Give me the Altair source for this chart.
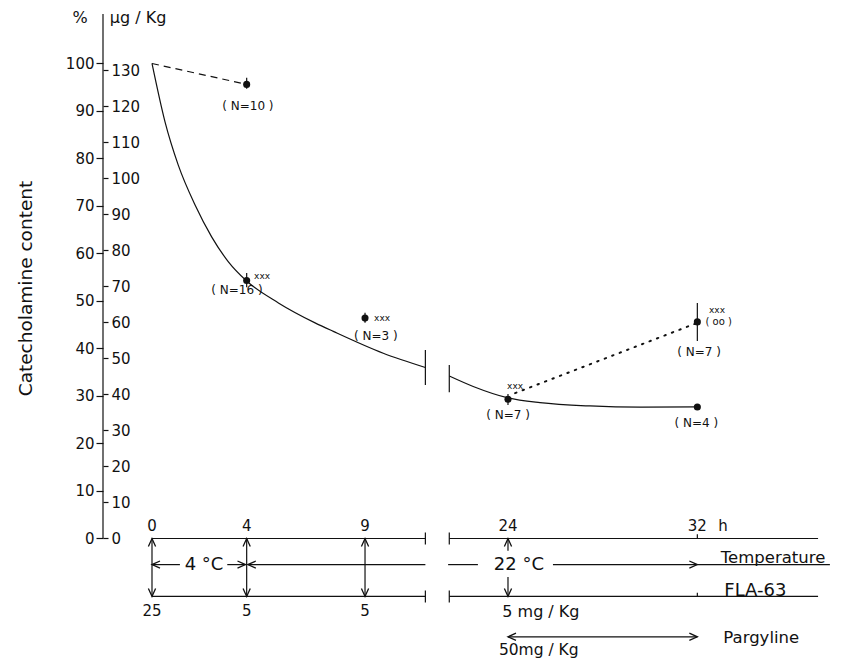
import altair as alt
import pandas as pd

FONT = "DejaVu Sans"
INK = "#111111"

# ---------------- data (time in hours, content in % of control) ----------------
BREAK_SHIFT = 8.96          # hours removed between the two parts of the broken time axis
PCT_PER_UG = 0.7579         # 100 % == ~132 ug/Kg

pct_ticks = [0, 10, 20, 30, 40, 50, 60, 70, 80, 90, 100]
ug_ticks = [0, 10, 20, 30, 40, 50, 60, 70, 80, 90, 100, 110, 120, 130]

# solid curve (4 degC + FLA-63), drawn in two pieces around the axis break
curve_left_t = [0, 0.55, 1.11, 1.82, 2.52, 3.22, 4.0, 5.34, 6.89, 7.66, 9.77, 11.55]
curve_left_v = [100, 87.7, 78.6, 70.2, 63.5, 58.3, 54.2, 49.6, 45.4, 43.6, 39.0, 36.0]
curve_right_t = [21.52, 22.53, 24.0, 25.35, 27.46, 29.58, 32.05]
curve_right_v = [34.2, 32.0, 29.6, 28.6, 27.9, 27.65, 27.7]

# measured means with error bars
point_t = [4, 4, 9, 24, 32, 32]
point_v = [95.6, 54.3, 46.4, 29.3, 45.6, 27.7]
err_lo = [94.7, 52.9, 45.4, 28.1, 41.6, 27.7]
err_hi = [97.0, 55.9, 47.5, 30.4, 49.6, 27.7]

# control (dashed) and pargyline (dotted) lines
dash_t = [0, 4]
dash_v = [100, 95.6]
dot_t = [24.3, 31.95]
dot_v = [30.6, 45.3]

# annotation labels next to the points
note_text = ["( N=10 )", "( N=16 )", "xxx", "( N=3 )", "xxx", "xxx", "( N=7 )",
             "xxx", "( oo )", "( N=7 )", "( N=4 )"]
note_t = [4.05, 3.59, 4.65, 9.46, 9.72, 24.3, 24.0, 32.83, 32.9, 32.07, 31.96]
note_v = [91.05, 52.3, 55.3, 42.6, 46.5, 32.0, 25.9, 48.0, 45.6, 39.3, 24.3]
note_fs = [12, 12, 9, 12, 9, 9, 12, 9, 10, 12, 12]

# treatment schedule below the plot (rows in the same y units)
ROW_TIME, ROW_TEMP, ROW_FLA, ROW_PARG = 0.0, -5.5, -12.2, -20.7
time_labels = ["0", "4", "9", "24", "32", "h"]
time_label_t = [0, 4, 9, 24, 32, 33.08]
dose_labels = ["25", "5", "5"]
dose_label_t = [0, 4, 9]
sched_text = ["4 °C", "22 °C", "Temperature", "FLA-63", "5 mg / Kg", "Pargyline", "50mg / Kg"]
sched_t = [2.2, 24.46, 35.2, 34.45, 25.39, 34.7, 25.3]
sched_v = [ROW_TEMP, ROW_TEMP, -4.1, -11.0, -15.5, -20.9, -23.5]
sched_fs = [18, 18, 16.5, 18, 16, 16.5, 15.5]

# ---------------- helpers ----------------
def pos(t):
    return t if t <= 12 else t - BREAK_SHIFT

X_MIN = -2.070
X_MAX = 28.729
Y_MIN = -25.37
Y_MAX = 110.84
W, H = 729, 647

xs = alt.Scale(domain=[X_MIN, X_MAX], nice=False, zero=False)
ys = alt.Scale(domain=[Y_MIN, Y_MAX], nice=False, zero=False)

def X(f):
    return alt.X(f, type="quantitative", scale=xs, axis=None)

def Y(f, axis=None):
    return alt.Y(f, type="quantitative", scale=ys, axis=axis)

# ---------------- tables ----------------
curve_df = pd.DataFrame({
    "seg": ["L"] * len(curve_left_t) + ["R"] * len(curve_right_t),
    "x": [pos(t) for t in curve_left_t + curve_right_t],
    "v": curve_left_v + curve_right_v,
})
curve_df["o"] = range(len(curve_df))

pts_df = pd.DataFrame({"x": [pos(t) for t in point_t], "v": point_v,
                       "lo": err_lo, "hi": err_hi})
dash_df = pd.DataFrame({"x": [pos(t) for t in dash_t], "v": dash_v})
dot_df = pd.DataFrame({"x": [pos(t) for t in dot_t], "v": dot_v})

# rule segments: (t1, t2, v1, v2)
segs = [
    # y axis line
    (X_MIN, X_MIN, 0, 110.4),
    # axis break bars on the curve
    (11.55, 11.55, 32.3, 39.7), (21.52, 21.52, 30.8, 36.5),
    # time row
    (0, 11.55, ROW_TIME, ROW_TIME), (21.52, 37.1, ROW_TIME, ROW_TIME),
    (11.55, 11.55, ROW_TIME - 1.26, ROW_TIME + 1.26), (21.52, 21.52, ROW_TIME - 1.26, ROW_TIME + 1.26),
    (32, 32, ROW_TIME, ROW_TIME + 0.9),
    # temperature row
    (0, 1.18, ROW_TEMP, ROW_TEMP), (3.18, 3.95, ROW_TEMP, ROW_TEMP), (4.05, 11.55, ROW_TEMP, ROW_TEMP),
    (21.47, 22.73, ROW_TEMP, ROW_TEMP), (25.9, 37.6, ROW_TEMP, ROW_TEMP),
    # FLA-63 row
    (0, 11.55, ROW_FLA, ROW_FLA), (21.52, 37.1, ROW_FLA, ROW_FLA),
    (11.55, 11.55, ROW_FLA - 1.26, ROW_FLA + 1.26), (21.52, 21.52, ROW_FLA - 1.26, ROW_FLA + 1.26),
    (32, 32, ROW_FLA, ROW_FLA + 0.8),
    # injection arrows
    (0, 0, ROW_FLA, ROW_TIME), (4, 4, ROW_FLA, ROW_TIME), (9, 9, ROW_FLA, ROW_TIME),
    (24, 24, -2.6, ROW_TIME), (24, 24, ROW_FLA, -8.1),
    # pargyline
    (24, 32, ROW_PARG, ROW_PARG),
]
for tt, lo, hi in zip(point_t, err_lo, err_hi):
    if hi > lo:
        segs.append((tt, tt, lo, hi))
seg_df = pd.DataFrame({
    "x1": [pos(s[0]) if s[0] != X_MIN else X_MIN for s in segs],
    "x2": [pos(s[1]) if s[1] != X_MIN else X_MIN for s in segs],
    "v1": [s[2] for s in segs],
    "v2": [s[3] for s in segs],
})

arrow_rows = [
    (0, ROW_TEMP, "left"), (3.95, ROW_TEMP, "right"), (4.05, ROW_TEMP, "left"), (32, ROW_TEMP, "right"),
    (0, ROW_TIME, "up"), (0, ROW_FLA, "down"), (4, ROW_TIME, "up"), (4, ROW_FLA, "down"),
    (9, ROW_TIME, "up"), (9, ROW_FLA, "down"), (24, ROW_TIME, "up"), (24, ROW_FLA, "down"),
    (24, ROW_PARG, "left"), (32, ROW_PARG, "right"),
]
arrow_df = pd.DataFrame({"x": [pos(a[0]) for a in arrow_rows],
                         "v": [a[1] for a in arrow_rows],
                         "dir": [a[2] for a in arrow_rows]})
arrow_dirs = ["right", "left", "up", "down"]
arrow_paths = ["M-1,-0.45L0,0L-1,0.45", "M1,-0.45L0,0L1,0.45",
               "M-0.45,1L0,0L0.45,1", "M-0.45,-1L0,0L0.45,-1"]

txt_label = (note_text + time_labels + dose_labels + sched_text + ["%", "µg / Kg"])
txt_t = (note_t + time_label_t + dose_label_t + sched_t + [-3.04, -0.59])
txt_v = (note_v + [2.7] * len(time_labels) + [-15.3] * len(dose_labels) + sched_v + [109.6, 109.6])
txt_fs = (note_fs + [15] * len(time_labels) + [15] * len(dose_labels) + sched_fs + [16, 16])
text_df = pd.DataFrame({"x": [pos(t) for t in txt_t], "v": txt_v,
                        "label": txt_label, "fs": txt_fs})

# ---------------- layers ----------------
pct_axis = alt.Axis(values=pct_ticks, orient="left", domain=False, grid=False,
                    tickSize=7, tickWidth=1.2, labelPadding=2, labelFontSize=15,
                    title="Catecholamine content", titleFontSize=18.5, titleFontWeight="normal",
                    titleAngle=270, titleAlign="center", titleBaseline="middle",
                    titleX=-78, titleY=276)
ug_axis = alt.Axis(values=[u * PCT_PER_UG for u in ug_ticks], orient="right", offset=-W,
                   domain=False, grid=False, tickSize=5, tickWidth=1.2, labelPadding=3,
                   labelFontSize=15, title=None,
                   labelExpr="round(datum.value / %s)" % PCT_PER_UG)

curve = alt.Chart(curve_df).mark_line(color=INK, strokeWidth=1.2, interpolate="monotone").encode(
    x=X("x"), y=Y("v", pct_axis), detail="seg:N", order="o:Q")

rules = alt.Chart(seg_df).mark_rule(color=INK, strokeWidth=1.2).encode(
    x=X("x1"), x2="x2", y=Y("v1", ug_axis), y2="v2")

dashed = alt.Chart(dash_df).mark_line(color=INK, strokeWidth=1.2, strokeDash=[7, 5]).encode(
    x=X("x"), y=Y("v"))

dotted = alt.Chart(dot_df).mark_line(color=INK, strokeWidth=2, strokeDash=[1.5, 6.5],
                                     strokeCap="round").encode(x=X("x"), y=Y("v"))

points = alt.Chart(pts_df).mark_circle(size=50, color=INK, opacity=1).encode(
    x=X("x"), y=Y("v"))

arrows = alt.Chart(arrow_df).mark_point(filled=False, size=256, strokeWidth=1.3,
                                        color=INK, opacity=1).encode(
    x=X("x"), y=Y("v"),
    shape=alt.Shape("dir:N", scale=alt.Scale(domain=arrow_dirs, range=arrow_paths), legend=None))

texts = alt.Chart(text_df).mark_text(font=FONT, color=INK, align="center", baseline="middle").encode(
    x=X("x"), y=Y("v"), text="label:N", size=alt.Size("fs:Q", scale=None))

chart = alt.layer(curve, rules, dashed, dotted, points, arrows, texts).resolve_axis(
    y="independent"
).properties(
    width=W, height=H,
    autosize=alt.AutoSizeParams(type="none"),
    padding={"left": 95, "top": 4, "right": 2, "bottom": 0},
    background="white",
).configure_view(stroke=None).configure_axis(
    labelFont=FONT, titleFont=FONT, labelColor=INK, titleColor=INK, tickColor=INK
)

chart.save("out.html", embed_options={"renderer": "svg", "actions": False})
